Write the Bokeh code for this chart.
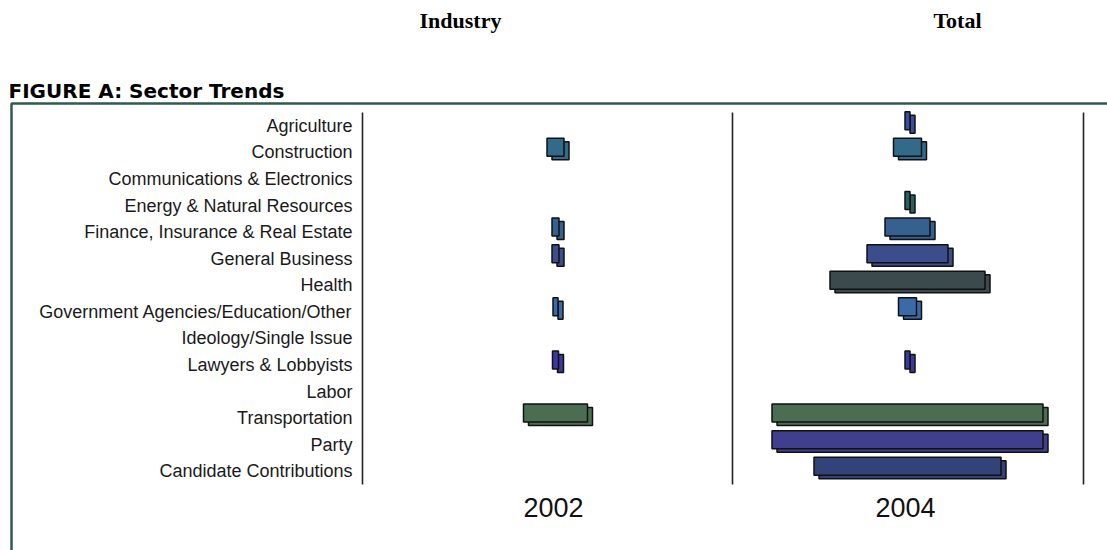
from bokeh.plotting import figure
from bokeh.models import Range1d, BoxAnnotation, ColumnDataSource
from bokeh.core.properties import value
from bokeh.embed import file_html
from bokeh.resources import INLINE

# ---------------- data ----------------
categories = ["Agriculture", "Construction", "Communications & Electronics",
              "Energy & Natural Resources", "Finance, Insurance & Real Estate",
              "General Business", "Health", "Government Agencies/Education/Other",
              "Ideology/Single Issue", "Lawyers & Lobbyists", "Labor",
              "Transportation", "Party", "Candidate Contributions"]
years = ["2002", "2004"]
values_2002 = [0, 17, 0, 0, 7, 7, 0, 5, 0, 6, 0, 64, 0, 0]
values_2004 = [5, 28, 0, 5, 45, 81, 155, 18, 0, 5, 0, 271, 271, 187]
sector_colors = ["#3b4e9c", "#336a8a", "#35628f", "#2f6060", "#36608f",
                 "#3d4c8a", "#3b4a4c", "#3a6aa8", "#3b4a8a", "#3a3a9c",
                 "#3a4a8a", "#4b6e52", "#403f8e", "#34427a"]
page_titles = ["Industry", "Total"]
figure_title = "FIGURE A: Sector Trends"

# ---------------- layout (page pixels) ----------------
W, H = 1107, 550
PLOT_L, PLOT_R, PLOT_T, PLOT_B = 362, 1083, 112, 484
ROW_H = (PLOT_B - PLOT_T) / len(categories)
row_y = [PLOT_T + (i + 0.5) * ROW_H for i in range(len(categories))]
col_x = {"2002": 555, "2004": 907}
DIVIDER_X = 732
BAR_H = 18
FRONT_DY = -5
SHADOW_DX, SHADOW_DY = 5, -1.5

p = figure(width=W, height=H, output_backend="svg", toolbar_location=None,
           x_range=Range1d(0, W), y_range=Range1d(H, 0),
           min_border=0, x_axis_location=None, y_axis_location=None)
p.outline_line_color = None
p.grid.visible = False
p.background_fill_color = "white"
p.border_fill_color = "white"

# figure frame box (green)
p.add_layout(BoxAnnotation(left=11, right=W + 40, top=103, bottom=H + 40,
                           fill_alpha=0, line_color="#2e5b4e", line_alpha=1.0,
                           line_width=2.5, level="underlay"))

# vertical rules
p.segment(x0=[PLOT_L, DIVIDER_X, PLOT_R], y0=[PLOT_T] * 3,
          x1=[PLOT_L, DIVIDER_X, PLOT_R], y1=[PLOT_B] * 3,
          line_color="#222222", line_width=1.6)

# category labels
p.text(x=[PLOT_L - 10] * len(categories), y=row_y, text=categories,
       text_align="right", text_baseline="middle",
       text_font=value("Liberation Sans"), text_font_size="18px",
       text_color="#1a1a1a")

# year labels
p.text(x=[col_x[y] - 2 for y in years], y=[PLOT_B + 23] * len(years), text=years,
       text_align="center", text_baseline="middle",
       text_font=value("Liberation Sans"), text_font_size="27px",
       text_color="#111111")

# bars (3D look: shadow face + front face)
for yr, vals in zip(years, [values_2002, values_2004]):
    ys, lefts, rights, cols = [], [], [], []
    for yy, v, col in zip(row_y, vals, sector_colors):
        if v > 0:
            ys.append(yy)
            lefts.append(col_x[yr] - v / 2)
            rights.append(col_x[yr] + v / 2)
            cols.append(col)
    src = ColumnDataSource(dict(
        y_front=[y + FRONT_DY for y in ys], y_shadow=[y + SHADOW_DY for y in ys],
        left=lefts, right=rights, color=cols,
        sleft=[l + SHADOW_DX for l in lefts], sright=[r + SHADOW_DX for r in rights]))
    p.hbar(y="y_shadow", left="sleft", right="sright", height=BAR_H,
           fill_color="color", line_color="#111111", line_width=1.5, source=src)
    p.hbar(y="y_front", left="left", right="right", height=BAR_H,
           fill_color="color", line_color="#111111", line_width=1.5, source=src)

# page titles
p.text(x=[460, 957], y=[20, 20], text=page_titles,
       text_align="center", text_baseline="middle",
       text_font=value("Liberation Serif"), text_font_style="bold",
       text_font_size="22px", text_color="#000000")
p.text(x=[8], y=[90], text=[figure_title],
       text_align="left", text_baseline="middle",
       text_font=value("DejaVu Sans"), text_font_style="bold",
       text_font_size="20px", text_color="#000000")

open("out.html", "w").write(file_html(p, INLINE))
